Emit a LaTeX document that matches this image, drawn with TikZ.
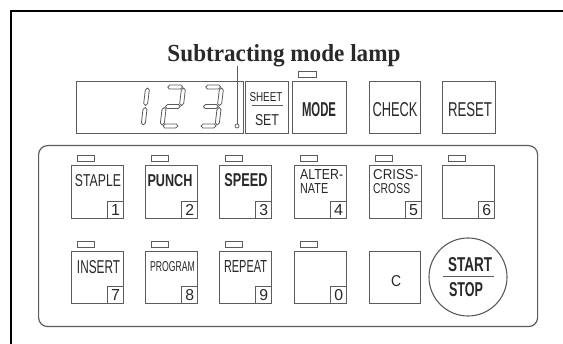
\documentclass[tikz,border=0pt]{standalone}
\usepackage{fontspec}
\usepackage{graphicx}
\setmainfont{Liberation Serif}
\newfontfamily\sfc{Liberation Sans}
\definecolor{lc}{gray}{0.36}
\definecolor{tc}{gray}{0.16}
\newcommand{\hsg}[3]{\draw[segst] (#2+1,#1) -- (#2+3,#1-2) -- (#3-3,#1-2) -- (#3-1,#1) -- (#3-3,#1+2) -- (#2+3,#1+2) -- cycle;}
\newcommand{\vsg}[3]{\draw[segst] (#1,#2+1) -- (#1+2,#2+3) -- (#1+2,#3-3) -- (#1,#3-1) -- (#1-2,#3-3) -- (#1-2,#2+3) -- cycle;}
\begin{document}
\begin{tikzpicture}[x=1pt,y=-1pt,
  ln/.style={draw=lc, line width=1.1pt},
  boxk/.style={ln, rectangle, inner sep=0pt, anchor=north west},
  key/.style={boxk, minimum width=52pt, minimum height=53pt},
  lamp/.style={draw=lc, line width=0.9pt, rectangle, minimum width=17pt, minimum height=6pt, inner sep=0pt, anchor=north west},
  numb/.style={draw=lc, line width=0.9pt, rectangle, minimum width=16pt, minimum height=17pt, inner sep=0pt, anchor=south east},
  lbl/.style={inner sep=0pt, text=tc, font=\sfc},
  segst/.style={draw=lc, line width=0.8pt, line join=round}]
\useasboundingbox (0,0) rectangle (563,344);
\fill[white] (0,0) rectangle (563,344);
% outer black frame
\draw[line width=2pt, black] (11,346) -- (11,11) -- (565,11);
% title and leader
\node[anchor=base, inner sep=0pt, font=\fontsize{24}{28}\selectfont, text=tc] (title) at (284,62) {\resizebox{233pt}{17pt}{\bfseries Subtracting mode lamp}};
\coordinate (lt) at (237,66);
\node[draw=lc, circle, minimum size=4pt, inner sep=0pt, line width=0.7pt] (sublamp) at (237,126) {};
\draw[draw=lc, line width=0.8pt] (lt) -- (sublamp.north);
% display
\node[boxk, minimum width=167pt, minimum height=52pt] (disp) at (76,81) {};
\node[boxk, minimum width=43pt, minimum height=52pt] (sheet) at (245,81) {};
\begin{scope}[shift={(126,126)}, xslant=0.12]
  \vsg{17}{-39}{-19.5}\vsg{17}{-19.5}{0}
\end{scope}
\begin{scope}[shift={(162,126)}, xslant=0.12]
  \hsg{-39}{0}{17}\vsg{17}{-39}{-19.5}\hsg{-19.5}{0}{17}\vsg{0}{-19.5}{0}\hsg{0}{0}{17}
\end{scope}
\begin{scope}[shift={(200,126)}, xslant=0.12]
  \hsg{-39}{0}{17}\vsg{17}{-39}{-19.5}\hsg{-19.5}{0}{17}\vsg{17}{-19.5}{0}\hsg{0}{0}{17}
\end{scope}
\node[lbl] (tsheet) at (266,97) {\resizebox{33pt}{9pt}{SHEET}};
\coordinate (shl) at (252,105);
\coordinate (shr) at (283,105);
\draw[draw=lc, line width=0.9pt] (shl) -- (shr);
\node[lbl] (tset) at (267,120) {\resizebox{24pt}{11pt}{SET}};
% top keys
\node[lamp, minimum width=18pt] (lmode) at (298,71) {};
\node[boxk, minimum width=54pt, minimum height=52pt] (kmode) at (292,81) {};
\node[boxk, minimum width=51pt, minimum height=52pt] (kcheck) at (369,81) {};
\node[boxk, minimum width=53pt, minimum height=52pt] (kreset) at (442,81) {};
\node[lbl] (tmode) at (319,110) {\resizebox{34pt}{14pt}{\bfseries MODE}};
\node[lbl] (tcheck) at (395,110) {\resizebox{45pt}{14pt}{CHECK}};
\node[lbl] (treset) at (470,110) {\resizebox{44pt}{14pt}{RESET}};
% panel
\node[draw=lc, line width=1.2pt, rounded corners=9pt, minimum width=499pt, minimum height=181pt, inner sep=0pt, anchor=north west] (panel) at (38,145) {};
% row 1
\foreach \n/\x in {1/71,2/145,3/219,4/294,5/369,6/442}{
  \node[lamp] (l\n) at (\x+6,155) {};
  \node[key] (k\n) at (\x,165) {};
  \node[numb] (n\n) at (k\n.south east) {};
  \node[lbl] (d\n) at (n\n.center) {\resizebox{!}{11pt}{\n}};
}
% row 2
\foreach \n/\x in {7/71,8/145,9/219,0/294}{
  \node[lamp] (l\n) at (\x+6,241) {};
  \node[key, minimum height=52pt] (k\n) at (\x,251) {};
  \node[numb] (n\n) at (k\n.south east) {};
  \node[lbl] (d\n) at (n\n.center) {\resizebox{!}{11pt}{\n}};
}
\node[key, minimum height=52pt, minimum width=51pt] (kc) at (369,251) {};
\node[lbl] (tc) at (396,281) {\resizebox{10pt}{11pt}{C}};
% labels
\node[lbl] (t1) at (98,181) {\resizebox{46pt}{12pt}{STAPLE}};
\node[lbl] (t2) at (170,181) {\resizebox{45pt}{12pt}{\bfseries PUNCH}};
\node[lbl] (t3) at (246,180) {\resizebox{43pt}{13pt}{\bfseries SPEED}};
\node[lbl, anchor=west] (t4a) at (300,175) {\resizebox{43pt}{10pt}{ALTER-}};
\node[lbl, anchor=west] (t4b) at (300,189) {\resizebox{28pt}{10pt}{NATE}};
\node[lbl, anchor=west] (t5a) at (373,175) {\resizebox{45pt}{10pt}{CRISS-}};
\node[lbl, anchor=west] (t5b) at (373,189) {\resizebox{37pt}{10pt}{CROSS}};
\node[lbl] (t7) at (98.5,267) {\resizebox{43pt}{13pt}{INSERT}};
\node[lbl] (t8) at (172.5,267) {\resizebox{45pt}{10pt}{PROGRAM}};
\node[lbl] (t9) at (245.5,267) {\resizebox{43pt}{12pt}{REPEAT}};
% start/stop
\node[draw=lc, line width=1.1pt, circle, minimum size=78pt, inner sep=0pt] (ss) at (468,277) {};
\coordinate (ssl) at (443,277);
\coordinate (ssr) at (494,277);
\draw[draw=lc, line width=1pt] (ssl) -- (ssr);
\node[lbl] (tstart) at (470,265) {\resizebox{44pt}{14pt}{\bfseries START}};
\node[lbl] (tstop) at (466,290) {\resizebox{34pt}{14pt}{\bfseries STOP}};
\end{tikzpicture}
\end{document}
